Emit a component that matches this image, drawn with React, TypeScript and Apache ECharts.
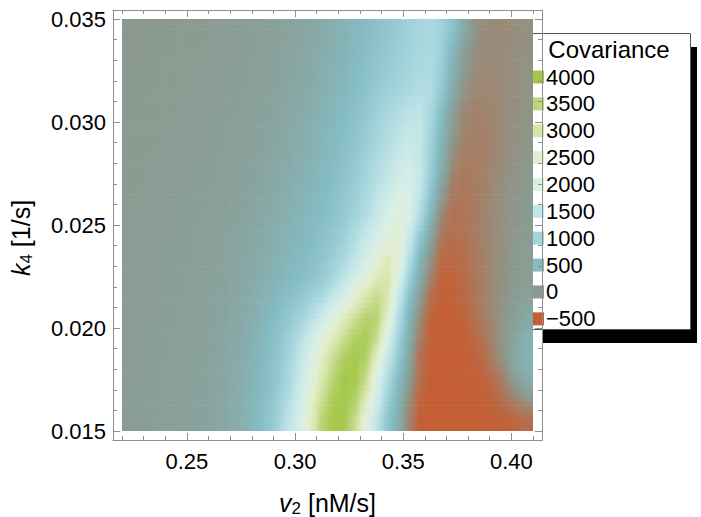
import React, { useEffect, useRef } from "react";
import * as echarts from "echarts";

// Cell centres of the density grid (each cell is 0.005 wide in v2, 0.001 tall in k4)
const v2Centers = [
  0.2225, 0.2275, 0.2325, 0.2375, 0.2425, 0.2475, 0.2525, 0.2575, 0.2625, 0.2675,
  0.2725, 0.2775, 0.2825, 0.2875, 0.2925, 0.2975, 0.3025, 0.3075, 0.3125, 0.3175,
  0.3225, 0.3275, 0.3325, 0.3375, 0.3425, 0.3475, 0.3525, 0.3575, 0.3625, 0.3675,
  0.3725, 0.3775, 0.3825, 0.3875, 0.3925, 0.3975, 0.4025, 0.4075,
];
const k4Centers = [
  0.0155, 0.0165, 0.0175, 0.0185, 0.0195, 0.0205, 0.0215, 0.0225, 0.0235, 0.0245,
  0.0255, 0.0265, 0.0275, 0.0285, 0.0295, 0.0305, 0.0315, 0.0325, 0.0335, 0.0345,
];

// Covariance values, one row per k4 centre
const cov_k4_0155 = [50,55,65,75,85,100,115,135,165,210,280,370,500,700,1000,1500,2000,2700,3600,4000,3950,3300,2300,1400,700,300,-200,-500,-500,-500,-500,-500,-500,-500,-490,-470,-430,-380];
const cov_k4_0165 = [48,52,60,70,80,95,110,130,160,200,265,350,470,620,880,1300,1850,2500,3300,3900,4000,3700,2800,1800,900,350,-100,-450,-500,-500,-500,-500,-500,-480,-420,-330,-200,-50];
const cov_k4_0175 = [45,50,57,66,76,90,105,125,152,190,250,330,440,570,800,1150,1650,2250,2950,3600,4000,3950,3300,2100,1200,500,50,-350,-500,-500,-500,-500,-490,-450,-350,-150,100,300];
const cov_k4_0185 = [42,47,54,62,72,85,100,118,145,180,235,310,420,540,750,1050,1500,2050,2700,3300,3800,4000,3700,2600,1550,750,150,-350,-500,-500,-500,-500,-460,-380,-200,0,250,380];
const cov_k4_0195 = [40,45,52,60,68,80,95,112,138,170,220,290,390,500,680,930,1300,1750,2250,2800,3300,3750,3900,3300,2000,950,280,-250,-480,-500,-500,-490,-420,-300,-140,20,200,330];
const cov_k4_0205 = [38,42,49,56,64,75,88,104,128,158,200,265,350,450,580,760,1000,1320,1720,2200,2700,3200,3650,3600,2600,1250,420,-130,-450,-500,-500,-460,-360,-230,-110,0,110,220];
const cov_k4_0215 = [35,39,45,52,60,70,82,97,118,145,185,240,310,390,480,590,740,930,1180,1550,1950,2450,2950,3350,3000,1600,600,50,-380,-490,-480,-420,-320,-210,-110,-30,40,100];
const cov_k4_0225 = [32,36,42,49,56,65,76,90,108,132,165,210,265,330,400,470,550,660,800,1050,1400,1800,2250,2750,3000,2100,950,250,-200,-450,-460,-400,-310,-210,-120,-50,10,60];
const cov_k4_0235 = [30,34,40,46,53,61,71,84,100,122,150,190,240,295,355,415,480,570,690,860,1100,1420,1820,2250,2700,2450,1300,450,-30,-380,-420,-370,-290,-200,-120,-55,-5,40];
const cov_k4_0245 = [28,32,37,43,50,58,67,78,93,112,138,172,215,265,320,375,435,510,610,740,920,1180,1520,1900,2250,2400,1700,750,150,-280,-370,-340,-270,-190,-120,-60,-15,20];
const cov_k4_0255 = [25,29,34,40,46,53,61,71,84,100,122,152,190,235,285,340,400,465,540,640,780,980,1250,1580,1930,2250,2050,1200,450,-150,-330,-320,-260,-190,-120,-65,-25,5];
const cov_k4_0265 = [22,26,31,36,42,48,55,64,75,89,108,134,167,207,253,305,365,430,500,590,710,880,1120,1400,1700,1980,2000,1450,650,50,-270,-300,-260,-200,-130,-70,-30,0];
const cov_k4_0275 = [18,22,27,32,37,43,50,58,68,80,96,118,147,183,225,272,325,385,455,535,640,790,1000,1240,1480,1720,1900,1600,850,250,-180,-270,-250,-200,-140,-80,-40,-10];
const cov_k4_0285 = [14,18,23,28,33,39,45,52,61,72,86,105,130,162,200,245,295,355,425,505,595,730,930,1130,1330,1550,1730,1500,900,350,-80,-230,-250,-220,-160,-100,-60,-30];
const cov_k4_0295 = [10,14,19,24,29,34,40,47,55,65,78,95,117,145,180,222,270,325,390,465,550,660,810,1000,1180,1370,1540,1550,1000,450,30,-180,-230,-220,-170,-110,-70,-40];
const cov_k4_0305 = [5,9,14,19,24,30,36,42,50,59,70,85,105,130,162,200,245,295,355,425,505,600,740,920,1070,1230,1380,1450,1080,520,80,-140,-200,-200,-170,-120,-80,-50];
const cov_k4_0315 = [0,4,9,14,19,25,31,37,44,52,62,75,92,114,142,176,218,265,320,385,460,545,650,790,910,1030,1150,1260,1200,750,250,-50,-150,-160,-150,-120,-80,-55];
const cov_k4_0325 = [-5,-1,4,9,14,20,26,32,39,46,55,67,82,102,127,158,196,240,292,352,420,500,600,725,820,920,1030,1150,1180,850,350,30,-110,-150,-140,-120,-90,-60];
const cov_k4_0335 = [-10,-6,-1,4,9,15,21,27,34,41,49,60,74,92,115,143,178,220,268,325,390,465,560,670,760,860,960,1080,1150,920,450,80,-80,-130,-135,-120,-95,-70];
const cov_k4_0345 = [-15,-10,-5,0,5,10,16,22,28,35,43,53,66,82,102,128,160,200,245,300,360,430,520,620,720,830,950,1060,1100,950,650,250,-30,-120,-140,-130,-100,-80];

const covRows = [
  cov_k4_0155, cov_k4_0165, cov_k4_0175, cov_k4_0185, cov_k4_0195,
  cov_k4_0205, cov_k4_0215, cov_k4_0225, cov_k4_0235, cov_k4_0245,
  cov_k4_0255, cov_k4_0265, cov_k4_0275, cov_k4_0285, cov_k4_0295,
  cov_k4_0305, cov_k4_0315, cov_k4_0325, cov_k4_0335, cov_k4_0345,
];

// Ticks
const xMajorTicks = [0.25, 0.3, 0.35, 0.4];
const xMinorTicks = [0.22, 0.23, 0.24, 0.26, 0.27, 0.28, 0.29, 0.31, 0.32, 0.33, 0.34, 0.36, 0.37, 0.38, 0.39, 0.41];
const yMajorTicks = [0.015, 0.02, 0.025, 0.03, 0.035];
const yMinorTicks = [0.016, 0.017, 0.018, 0.019, 0.021, 0.022, 0.023, 0.024, 0.026, 0.027, 0.028, 0.029, 0.031, 0.032, 0.033, 0.034];

// Legend
const legendLabels = ["4000", "3500", "3000", "2500", "2000", "1500", "1000", "500", "0", "\u2212500"];
const legendColors = ["#a4c84a", "#bcd57b", "#d6e6a8", "#e3eed1", "#d9efe6", "#c3e6e8", "#a3d4dc", "#84bbc2", "#8a9a90", "#c45e35"];
const colorScale = ["#c45e35", "#8a9a90", "#84bbc2", "#a3d4dc", "#c3e6e8", "#d9efe6", "#e3eed1", "#d6e6a8", "#bcd57b", "#a4c84a"];
const COV_MIN = -500;
const COV_MAX = 4000;

const X_MIN = 0.22;
const X_MAX = 0.41;
const Y_MIN = 0.015;
const Y_MAX = 0.035;

const FONT = "'Liberation Sans', Arial, Helvetica, sans-serif";
const FRAME = "#8f8f8f";

export default function App() {
  const ref = useRef<HTMLDivElement>(null);

  useEffect(() => {
    if (!ref.current) return;
    const chart = echarts.init(ref.current, undefined, { renderer: "svg" });

    const DATA_LEFT = 122;
    const DATA_TOP = 19;
    const DATA_W = 411;
    const DATA_H = 412;
    const PAD = 9;
    const xPad = (PAD * (X_MAX - X_MIN)) / DATA_W;
    const yPad = (PAD * (Y_MAX - Y_MIN)) / DATA_H;

    const NX = v2Centers.length;
    const NY = k4Centers.length;
    const HALF_X = (X_MAX - X_MIN) / NX / 2;
    const HALF_Y = (Y_MAX - Y_MIN) / NY / 2;
    const STRIPS = 4;
    const STOPS = [0, 0.125, 0.25, 0.375, 0.5, 0.625, 0.75, 0.875, 1];

    const data: number[][] = [];
    covRows.forEach((row, j) => row.forEach((v, i) => data.push([v2Centers[i], k4Centers[j], v, i, j])));

    // smooth shading between neighbouring cells (like a density plot)
    const valAt = (gx: number, gy: number) => {
      const cx = Math.min(NX - 1, Math.max(0, gx));
      const cy = Math.min(NY - 1, Math.max(0, gy));
      const i0 = Math.min(NX - 2, Math.floor(cx));
      const j0 = Math.min(NY - 2, Math.floor(cy));
      const fx = cx - i0;
      const fy = cy - j0;
      const a = covRows[j0][i0] * (1 - fx) + covRows[j0][i0 + 1] * fx;
      const b = covRows[j0 + 1][i0] * (1 - fx) + covRows[j0 + 1][i0 + 1] * fx;
      return a * (1 - fy) + b * fy;
    };
    const colorOf = (v: number) => {
      const t = Math.min(1, Math.max(0, (v - COV_MIN) / (COV_MAX - COV_MIN)));
      return echarts.color.lerp(t, colorScale) as string;
    };

    const renderItem = (params: any, api: any) => {
      const xc = api.value(0);
      const yc = api.value(1);
      const i = api.value(3);
      const j = api.value(4);
      const left = api.coord([xc - HALF_X, yc])[0];
      const right = api.coord([xc + HALF_X, yc])[0];
      const children: any[] = [];
      for (let s = 0; s < STRIPS; s++) {
        const yb = yc - HALF_Y + (2 * HALF_Y * s) / STRIPS;
        const yt = yb + (2 * HALF_Y) / STRIPS;
        const pTop = api.coord([xc, yt])[1];
        const pBot = api.coord([xc, yb])[1];
        const gy = j - 0.5 + (s + 0.5) / STRIPS;
        const stops = STOPS.map((t) => ({ offset: t, color: colorOf(valAt(i - 0.5 + t, gy)) }));
        children.push({
          type: "rect",
          shape: { x: left, y: pTop, width: right - left + 0.6, height: pBot - pTop + 0.6 },
          style: { fill: new echarts.graphic.LinearGradient(0, 0, 1, 0, stops) },
        });
      }
      return { type: "group", children };
    };

    const tickStyle = { color: FRAME, width: 1 };
    const common = {
      type: "value",
      gridIndex: 0,
      splitLine: { show: false },
      axisLine: { onZero: false, lineStyle: tickStyle },
    };
    const labelStyle = { fontSize: 22, color: "#000", fontFamily: FONT };

    const xExt = { min: X_MIN - xPad, max: X_MAX + xPad };
    const yExt = { min: Y_MIN - yPad, max: Y_MAX + yPad };

    const xAxes: any[] = [
      { ...common, ...xExt, position: "bottom",
        axisTick: { inside: true, length: 7, customValues: xMajorTicks, lineStyle: tickStyle },
        axisLabel: { ...labelStyle, margin: 10, customValues: xMajorTicks, formatter: (v: number) => v.toFixed(2) } },
      { ...common, ...xExt, position: "bottom", axisLine: { show: false, onZero: false },
        axisTick: { inside: true, length: 4, customValues: xMinorTicks, lineStyle: tickStyle },
        axisLabel: { show: false } },
      { ...common, ...xExt, position: "top",
        axisTick: { inside: true, length: 7, customValues: xMajorTicks, lineStyle: tickStyle },
        axisLabel: { show: false } },
      { ...common, ...xExt, position: "top", axisLine: { show: false, onZero: false },
        axisTick: { inside: true, length: 4, customValues: xMinorTicks, lineStyle: tickStyle },
        axisLabel: { show: false } },
      { type: "value", gridIndex: 1, min: X_MIN, max: X_MAX, show: false, splitLine: { show: false } },
    ];
    const yAxes: any[] = [
      { ...common, ...yExt, position: "left",
        axisTick: { inside: true, length: 7, customValues: yMajorTicks, lineStyle: tickStyle },
        axisLabel: { ...labelStyle, margin: 7, customValues: yMajorTicks, formatter: (v: number) => v.toFixed(3) } },
      { ...common, ...yExt, position: "left", axisLine: { show: false, onZero: false },
        axisTick: { inside: true, length: 4, customValues: yMinorTicks, lineStyle: tickStyle },
        axisLabel: { show: false } },
      { ...common, ...yExt, position: "right",
        axisTick: { inside: true, length: 7, customValues: yMajorTicks, lineStyle: tickStyle },
        axisLabel: { show: false } },
      { ...common, ...yExt, position: "right", axisLine: { show: false, onZero: false },
        axisTick: { inside: true, length: 4, customValues: yMinorTicks, lineStyle: tickStyle },
        axisLabel: { show: false } },
      { type: "value", gridIndex: 1, min: Y_MIN, max: Y_MAX, show: false, splitLine: { show: false } },
    ];

    const LG_X = 528.5;
    const LG_Y = 33.5;
    const LG_W = 162;
    const LG_H = 296;
    const ROW0 = 77;
    const ROW_STEP = 26.87;

    const legendEls: any[] = [
      { type: "rect", shape: { x: 542, y: 47, width: 155, height: 296 }, style: { fill: "#000" } },
      { type: "rect", shape: { x: LG_X, y: LG_Y, width: LG_W, height: LG_H },
        style: { fill: "#fff", stroke: "#555", lineWidth: 1 } },
      { type: "text", x: 609, y: 49,
        style: { text: "Covariance", fontSize: 24, fontFamily: FONT, fill: "#000", align: "center", verticalAlign: "middle" } },
    ];
    legendLabels.forEach((lab, k) => {
      const cy = ROW0 + ROW_STEP * k;
      legendEls.push({ type: "rect", shape: { x: 531, y: cy - 6.5, width: 13, height: 13 }, style: { fill: legendColors[k] } });
      legendEls.push({ type: "text", x: 546, y: cy,
        style: { text: lab, fontSize: 22, fontFamily: FONT, fill: "#000", align: "left", verticalAlign: "middle" } });
    });

    const rich = {
      i: { fontSize: 25, fontStyle: "italic", fontFamily: FONT, fill: "#000" },
      s: { fontSize: 17, fontFamily: FONT, fill: "#000", padding: [11, 0, 0, 0] },
      n: { fontSize: 25, fontFamily: FONT, fill: "#000" },
    };

    chart.setOption({
      animation: false,
      backgroundColor: "#fff",
      grid: [
        { left: DATA_LEFT - PAD, top: DATA_TOP - PAD, width: DATA_W + 2 * PAD, height: DATA_H + 2 * PAD, containLabel: false },
        { left: DATA_LEFT, top: DATA_TOP, width: DATA_W, height: DATA_H, containLabel: false },
      ],
      xAxis: xAxes,
      yAxis: yAxes,
      series: [
        {
          type: "custom",
          xAxisIndex: 4,
          yAxisIndex: 4,
          clip: true,
          data,
          renderItem,
          encode: { x: 0, y: 1 },
          emphasis: { disabled: true },
          silent: true,
        },
      ],
      graphic: [
        { type: "text", x: 327.5, y: 503, z: 50,
          style: { text: "{i|v}{s|2}{n| [nM/s]}", rich, align: "center", verticalAlign: "middle" } },
        { type: "text", x: 21, y: 238, rotation: Math.PI / 2, z: 50,
          style: { text: "{i|k}{s|4}{n| [1/s]}", rich, align: "center", verticalAlign: "middle" } },
        { type: "group", z: 100, children: legendEls },
      ],
    });

    return () => chart.dispose();
  }, []);

  return <div ref={ref} style={{ position: "fixed", left: 0, top: 0, width: 701, height: 517 }} />;
}
